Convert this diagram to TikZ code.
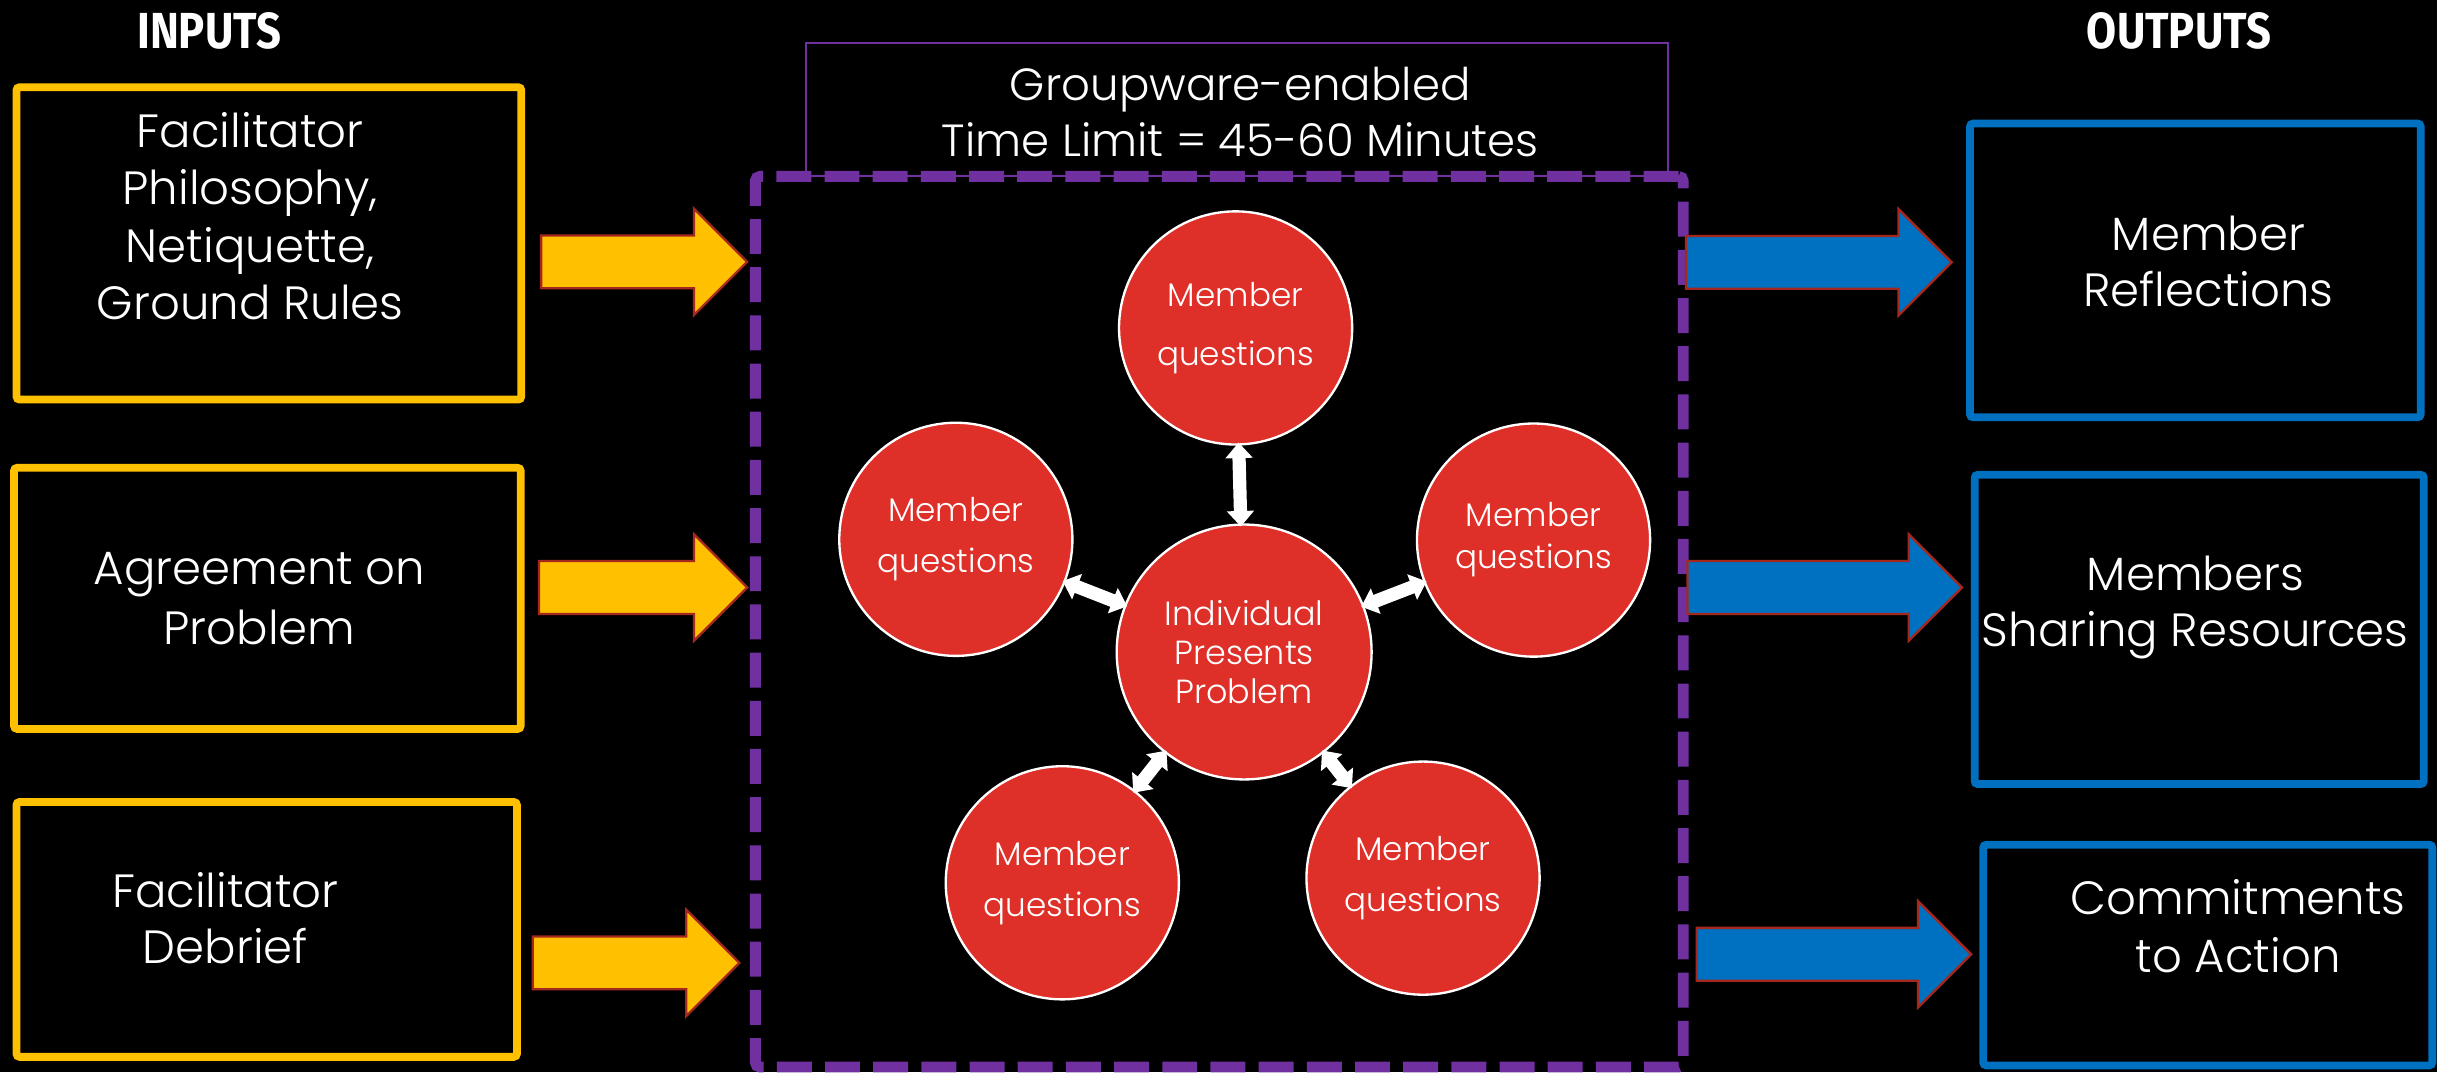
\documentclass[tikz,border=0pt]{standalone}
\usepackage{fontspec}
\usetikzlibrary{shapes.arrows,arrows.meta}
\newfontfamily\lt{Poppins}[UprightFont={* Light}]
\newfontfamily\hd{Fira Sans}
\definecolor{inyellow}{HTML}{FFC000}
\definecolor{outblue}{HTML}{0070C0}
\definecolor{frpurple}{HTML}{7030A0}
\definecolor{circred}{HTML}{DE2F29}
\definecolor{arrowred}{HTML}{A5281E}
\begin{document}
\begin{tikzpicture}[x=1pt,y=-1pt,
  txt/.style={text=white, align=center, inner sep=0pt},
  boxtxt/.style={txt, font=\lt\fontsize{30}{37}\selectfont},
  hdr/.style={text=white, inner sep=0pt, font=\hd\bfseries\fontsize{32.6}{36}\selectfont},
  ybox/.style={draw=inyellow, line width=5pt, rounded corners=2pt, inner sep=0pt},
  bbox/.style={draw=outblue, line width=5pt, rounded corners=2pt, inner sep=0pt},
  blockarr/.style={single arrow, draw=arrowred, line width=1.5pt,
     single arrow head extend=17.25pt, single arrow tip angle=90,
     inner xsep=0pt, inner ysep=16.25pt, anchor=tail},
  yarr/.style={blockarr, fill=inyellow},
  barr/.style={blockarr, fill=outblue},
  member/.style={circle, fill=circred, draw=white, line width=1.5pt, inner sep=0pt,
     minimum size=150pt, text=white, align=center},
  warrow/.style={draw=white, line width=8.5pt,
     {Triangle[width=17pt,length=10pt]}-{Triangle[width=17pt,length=10pt]},
     shorten <=-2pt, shorten >=-2pt}
]
\fill[black] (0,0) rectangle (1568,690);
\useasboundingbox (0,0) rectangle (1568,690);

% headers
\node[hdr] (inh) at (134.6,19.8) {\scalebox{0.86}[1]{INPUTS}};
\node[hdr] (outh) at (1402,19.8) {\scalebox{0.86}[1]{OUTPUTS}};

% groupware box and frame
\node[draw=frpurple, line width=1.2pt, minimum width=554.4pt, minimum height=86pt, inner sep=0pt] (gw) at (795.8,70.5) {};
\node[txt, font=\lt\fontsize{29}{36.5}\selectfont] (gwt) at (798,72) {Groupware-enabled\\Time Limit = 45-60 Minutes};
\node[draw=frpurple, line width=7pt, dash pattern=on 22.5pt off 8.5pt, rounded corners=3pt,
  minimum width=597pt, minimum height=573pt, inner sep=0pt] (frame) at (784.5,400) {};

% input boxes
\node[ybox, minimum width=324.8pt, minimum height=201pt] (in1) at (173,156.6) {};
\node[boxtxt] (in1t) at (161,139) {Facilitator\\Philosophy,\\Netiquette,\\Ground Rules};
\node[ybox, minimum width=326pt, minimum height=168pt] (in2) at (172,385) {};
\node[boxtxt, font=\lt\fontsize{30}{38.5}\selectfont] (in2t) at (167,385) {Agreement on\\Problem};
\node[ybox, minimum width=322pt, minimum height=164pt] (in3) at (171.6,598) {};
\node[boxtxt, font=\lt\fontsize{30}{36}\selectfont] (in3t) at (145,591) {Facilitator\\Debrief};

% output boxes
\node[bbox, minimum width=290pt, minimum height=189pt] (out1) at (1412.5,174) {};
\node[boxtxt, font=\lt\fontsize{30}{36}\selectfont] (out1t) at (1421,168) {Member\\Reflections};
\node[bbox, minimum width=289pt, minimum height=199pt] (out2) at (1415,405) {};
\node[boxtxt, font=\lt\fontsize{30}{35.7}\selectfont] (out2t) at (1412.5,391) {Members\\Sharing Resources};
\node[bbox, minimum width=289pt, minimum height=142pt] (out3) at (1420.5,614.5) {};
\node[boxtxt, font=\lt\fontsize{30}{37}\selectfont] (out3t) at (1440,596) {Commitments\\to Action};

% block arrows
\node[yarr, minimum height=132.6pt] (ya1) at (347.4,168.5) {};
\node[yarr, minimum height=134pt] (ya2) at (346,378) {};
\node[yarr, minimum height=133pt] (ya3) at (342,619.5) {};
\node[barr, minimum height=171pt] (ba1) at (1084,168.8) {};
\node[barr, minimum height=176.6pt] (ba2) at (1085,378) {};
\node[barr, minimum height=176.5pt] (ba3) at (1091,614) {};

% circles
\node[member, font=\lt\fontsize{21}{37.7}\selectfont] (mt) at (795,211) {Member\\questions};
\node[member, font=\lt\fontsize{21}{33}\selectfont] (ml) at (615,347) {Member\\questions};
\node[member, font=\lt\fontsize{21}{27}\selectfont] (mr) at (986.7,347.5) {Member\\questions};
\node[member, font=\lt\fontsize{21}{33}\selectfont] (mbl) at (683.5,568) {Member\\questions};
\node[member, font=\lt\fontsize{21}{33}\selectfont] (mbr) at (915.6,565) {Member\\questions};
\node[member, minimum size=164pt, font=\lt\fontsize{21.5}{25}\selectfont] (ic) at (800.5,419.5) {Individual\\Presents\\Problem};

% white double arrows
\draw[warrow] (ic) -- (mt);
\draw[warrow] (ic) -- (ml);
\draw[warrow] (ic) -- (mr);
\draw[warrow] (ic) -- (mbl);
\draw[warrow] (ic) -- (mbr);
\end{tikzpicture}
\end{document}
